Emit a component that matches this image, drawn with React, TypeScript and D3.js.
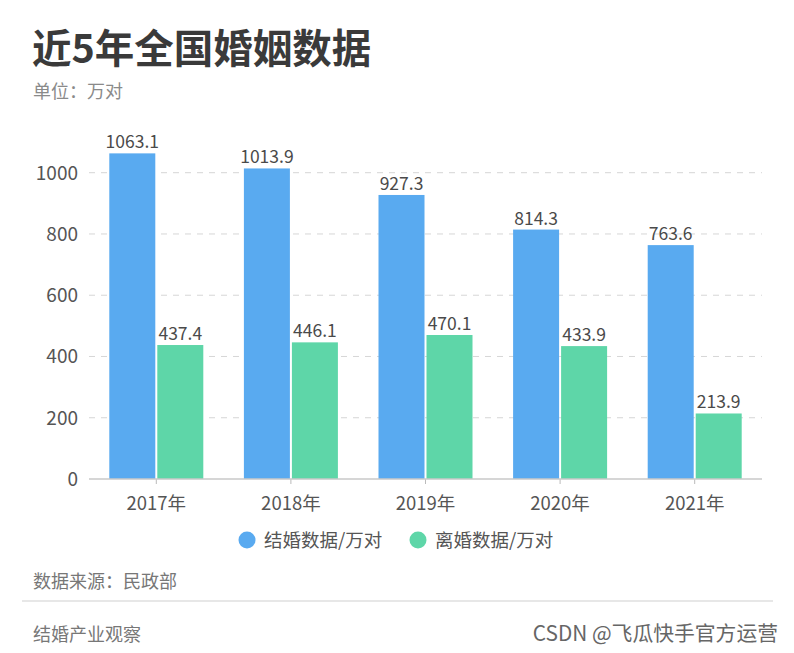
import React from "react";
import * as d3 from "d3";

const years = ["2017年", "2018年", "2019年", "2020年", "2021年"];
const marriage = [1063.1, 1013.9, 927.3, 814.3, 763.6];
const divorce = [437.4, 446.1, 470.1, 433.9, 213.9];
const yTicks = [0, 200, 400, 600, 800, 1000];
const seriesNames = ["结婚数据/万对", "离婚数据/万对"];
const colors = ["#59aaf0", "#5ed6a8"];

const W = 794;
const H = 653;
const FONT = "'Noto Sans CJK SC', 'Noto Sans', sans-serif";

const App: React.FC = () => {
    const left = 89, right = 762, bottom = 479;

    const x = d3.scaleBand<string>().domain(years).range([left, right]).paddingInner(0).paddingOuter(0);
    const y = d3.scaleLinear().domain([0, 1200]).range([bottom, bottom - 1200 * 0.3063]);

    const barW = 46;
    const gap = 2;
    const series = [marriage, divorce];

    return (
        <div style={{ position: "absolute", left: 0, top: 0 }}>
            <svg width={W} height={H} style={{ display: "block", background: "#fff" }} fontFamily={FONT}>
                {/* 标题 */}
                <text x={32} y={63} fontSize={39.5} fontWeight="bold" fill="#3a3a3a">近5年全国婚姻数据</text>
                <text x={33} y={98} fontSize={18} fill="#8a8a8a">单位：万对</text>

                {/* 网格线 */}
                {yTicks.filter(t => t > 0).map(t => (
                    <line key={t} x1={left} x2={right} y1={y(t)} y2={y(t)}
                        stroke="#d6d6d6" strokeDasharray="6,6" strokeWidth={1} />
                ))}
                {yTicks.map(t => (
                    <text key={"l" + t} x={78} y={y(t)} dy="0.36em" textAnchor="end" fontSize={19} fill="#555">{t}</text>
                ))}

                {/* 柱子 */}
                {years.map((yr, i) => {
                    const c = (x(yr) as number) + x.bandwidth() / 2;
                    return (
                        <g key={yr}>
                            {series.map((s, k) => {
                                const bx = k === 0 ? c - gap / 2 - barW : c + gap / 2;
                                return (
                                    <g key={k}>
                                        <rect x={bx} y={y(s[i])} width={barW} height={bottom - y(s[i])} fill={colors[k]} />
                                        <text x={bx + barW / 2} y={y(s[i]) - 5} textAnchor="middle" fontSize={17.5} fill="#4a4a4a">
                                            {s[i].toFixed(1)}
                                        </text>
                                    </g>
                                );
                            })}
                            <line x1={c} x2={c} y1={bottom} y2={bottom + 5} stroke="#bbb" />
                            <text x={c} y={510} textAnchor="middle" fontSize={18.5} fill="#555">{yr}</text>
                        </g>
                    );
                })}
                <line x1={left} x2={right} y1={bottom} y2={bottom} stroke="#c8c8c8" strokeWidth={1.5} />

                {/* 图例 */}
                {seriesNames.map((n, k) => {
                    const lx = k === 0 ? 247 : 418;
                    return (
                        <g key={n}>
                            <circle cx={lx} cy={540} r={8.5} fill={colors[k]} />
                            <text x={lx + 17} y={540} dy="0.36em" fontSize={18.5} fill="#555">{n}</text>
                        </g>
                    );
                })}

                {/* 页脚 */}
                <text x={33} y={588} fontSize={18} fill="#777">数据来源：民政部</text>
                <line x1={22} x2={773} y1={601} y2={601} stroke="#cfcfcf" strokeWidth={1} />
                <text x={33} y={641} fontSize={18} fill="#777">结婚产业观察</text>
                <text x={778} y={641} textAnchor="end" fontSize={20.8} fill="#666">CSDN @飞瓜快手官方运营</text>
            </svg>
        </div>
    );
};

export default App;
